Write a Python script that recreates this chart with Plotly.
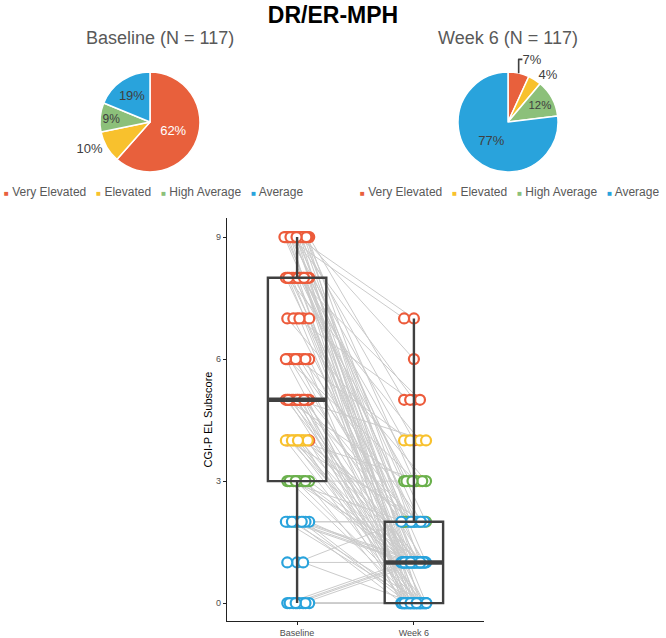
import plotly.graph_objects as go
import numpy as np

# ---------------- data ----------------
categories = ["Very Elevated", "Elevated", "High Average", "Average"]
cat_codes = ["V", "E", "H", "A"]
pie_colors = ["#E8603C", "#F8C12D", "#8CC07A", "#29A3DC"]
point_colors = ["#EC5B3B", "#F8C12D", "#6AB04C", "#29A3DC"]

time_labels = ["Baseline", "Week 6"]
time_positions = [1, 2]
y_tick_values = [0, 3, 6, 9]

baseline_score = [
    9, 9, 9, 9, 9, 9, 9, 9, 9, 9, 9, 9, 9, 9, 9, 9, 9, 9, 9, 9, 9, 9,
    8, 8, 8, 8, 8, 8, 8, 8, 8, 8, 8, 8, 8, 8, 8, 8,
    7, 7, 7, 7, 7, 7,
    6, 6, 6, 6, 6, 6, 6, 6, 6, 6,
    5, 5, 5, 5, 5, 5, 5, 5, 5, 5, 5, 5, 5, 5, 5, 5,
    4, 4, 4, 4, 4, 4, 4, 4, 4, 4, 4, 4, 4, 4,
    3, 3, 3, 3, 3, 3, 3, 3, 3,
    2, 2, 2, 2, 2, 2, 2, 2, 2, 2, 2, 2,
    1, 1, 1,
    0, 0, 0, 0, 0, 0, 0, 0, 0,
]
week6_score = [
    7, 7, 6, 5, 5, 4, 4, 3, 3, 2, 2, 2, 2, 1, 1, 1, 1, 1, 0, 0, 0, 0,
    5, 4, 3, 3, 2, 2, 2, 1, 1, 1, 1, 0, 0, 0, 0, 0,
    5, 3, 1, 1, 0, 0,
    4, 3, 2, 2, 1, 1, 1, 0, 0, 0,
    4, 3, 2, 2, 2, 1, 1, 1, 1, 1, 0, 0, 0, 0, 0, 0,
    3, 2, 2, 1, 1, 1, 1, 1, 0, 0, 0, 0, 0, 0,
    3, 2, 1, 1, 1, 1, 0, 0, 0,
    2, 2, 1, 1, 1, 1, 1, 0, 0, 0, 0, 0,
    2, 1, 0,
    1, 1, 1, 1, 0, 0, 0, 0, 0,
]
baseline_cat = list(
    "VVVVVVVVVVVVVVVVVVVVVV"
    "VVVVVVVVVVVVVVVV"
    "VVVVVV"
    "VVVVVVVVVV"
    "VVVVVVVVVVVVVVVV"
    "EVEEVEEEEEEEEE"
    "HHHHHHHHH"
    "HAAHAAAAAAAA"
    "AAA"
    "AAAAAAAAA"
)
week6_cat = list(
    "VVVVVVEHHHHAAAAAAAAAAA"
    "VEEHHAAAAAAAAAAA"
    "VHAAAA"
    "EHHAAAAAAA"
    "EHHAAAAAAAAAAAAA"
    "HAAAAAAAAAAAAA"
    "HHAAAAAAA"
    "AAAAAAAAAAAA"
    "AAA"
    "AAAAAAAAA"
)

N = len(baseline_score)
base_counts = [baseline_cat.count(c) for c in cat_codes]
week_counts = [week6_cat.count(c) for c in cat_codes]

FONT = "Liberation Sans, Arial, sans-serif"
W, H = 666, 638


def px_x(p):
    return p / W


def px_y(p):
    return 1 - p / H


fig = go.Figure()

# ---------------- pies ----------------
fig.add_trace(go.Pie(
    values=base_counts, labels=categories, sort=False, direction="clockwise", rotation=0,
    marker=dict(colors=pie_colors, line=dict(color="white", width=1.5)),
    texttemplate="%{percent:.0%}",
    textposition=["inside", "outside", "inside", "inside"],
    insidetextorientation="horizontal",
    textfont=dict(family=FONT, size=13, color=["white", "#404040", "#404040", "#404040"]),
    domain=dict(x=[px_x(100), px_x(200)], y=[px_y(172), px_y(72)]),
    showlegend=False, hoverinfo="label+percent",
))
fig.add_trace(go.Pie(
    values=week_counts, labels=categories, sort=False, direction="clockwise", rotation=0,
    marker=dict(colors=pie_colors, line=dict(color="white", width=1.5)),
    texttemplate="%{percent:.0%}",
    textposition=["outside", "outside", "inside", "inside"],
    insidetextorientation="horizontal",
    textfont=dict(family=FONT, size=13, color="#404040"),
    domain=dict(x=[px_x(458), px_x(558)], y=[px_y(172), px_y(72)]),
    showlegend=False, hoverinfo="label+percent",
))


# ---------------- jitter positions (computed) ----------------
def jitter_positions(scores, center):
    seen = {}
    xs = []
    for s in scores:
        k = seen.get(s, 0)
        seen[s] = k + 1
        xs.append(center + (((k * 0.618034 + 0.5) % 1.0) - 0.5) * 0.22)
    return xs


xb = jitter_positions(baseline_score, time_positions[0])
xw = jitter_positions(week6_score, time_positions[1])

# connecting lines
lx, ly = [], []
for i in range(N):
    lx += [xb[i], xw[i], None]
    ly += [baseline_score[i], week6_score[i], None]
fig.add_trace(go.Scatter(x=lx, y=ly, mode="lines", line=dict(color="#CBCBCB", width=1),
                         showlegend=False, hoverinfo="skip"))

# points
col_map = dict(zip(cat_codes, point_colors))
fig.add_trace(go.Scatter(
    x=xb + xw, y=baseline_score + week6_score, mode="markers",
    marker=dict(symbol="circle", size=10, color="white",
                line=dict(width=2.2, color=[col_map[c] for c in baseline_cat + week6_cat])),
    showlegend=False,
))

# boxes (on overlay axes so they draw above points)
for pos, scores in zip(time_positions, [baseline_score, week6_score]):
    arr = np.array(scores, dtype=float)
    q1, med, q3 = np.percentile(arr, [25, 50, 75])
    fig.add_trace(go.Box(
        x=[pos], q1=[q1], median=[med], q3=[q3], lowerfence=[arr.min()], upperfence=[arr.max()],
        width=0.5, whiskerwidth=0, boxpoints=False,
        fillcolor="rgba(0,0,0,0)", line=dict(color="#404040", width=2.4),
        xaxis="x2", yaxis="y2", showlegend=False,
    ))
    fig.add_trace(go.Scatter(
        x=[pos - 0.25, pos + 0.25], y=[med, med], mode="lines",
        line=dict(color="#404040", width=4.5), xaxis="x2", yaxis="y2",
        showlegend=False, hoverinfo="skip",
    ))

x_range = [0.4, 2.6]
y_range = [-0.44, 9.47]
x_dom = [px_x(227), px_x(484)]
y_dom = [px_y(621), px_y(218)]

fig.update_layout(
    width=W, height=H,
    margin=dict(l=0, r=0, t=0, b=0),
    paper_bgcolor="white", plot_bgcolor="white",
    font=dict(family=FONT, color="#404040"),
    title=dict(text="<b>DR/ER-MPH</b>", x=0.5, xanchor="center", y=px_y(15), yanchor="middle",
               font=dict(family=FONT, size=23, color="black")),
    xaxis=dict(domain=x_dom, range=x_range, tickvals=time_positions, ticktext=time_labels,
               showline=True, linecolor="#222222", linewidth=1.3, ticks="outside", ticklen=3,
               tickcolor="#222222", showgrid=False, zeroline=False,
               tickfont=dict(size=9, color="#4D4D4D")),
    yaxis=dict(domain=y_dom, range=y_range, tickvals=y_tick_values,
               showline=True, linecolor="#222222", linewidth=1.3, ticks="outside", ticklen=3,
               tickcolor="#222222", showgrid=False, zeroline=False,
               tickfont=dict(size=9, color="#4D4D4D"),
               title=dict(text="CGI-P EL Subscore", font=dict(size=11, color="black"), standoff=1)),
    xaxis2=dict(domain=x_dom, range=x_range, overlaying="x", visible=False, anchor="y2"),
    yaxis2=dict(domain=y_dom, range=y_range, overlaying="y", visible=False, anchor="x2"),
)

# pie subtitles
for txt, cx in [("Baseline (N = 117)", 160), ("Week 6 (N = 117)", 508)]:
    fig.add_annotation(text=txt, x=px_x(cx), y=px_y(38), xref="paper", yref="paper",
                       showarrow=False, xanchor="center", yanchor="middle",
                       font=dict(family=FONT, size=18, color="#595959"))

# legends built from categories and colors
legend_text = "&nbsp;&nbsp;&nbsp;".join(
    f"<span style='color:{c}; font-size:8px'>■</span> {n}" for n, c in zip(categories, pie_colors)
)
for cx in [153, 510]:
    fig.add_annotation(text=legend_text, x=px_x(cx), y=px_y(192), xref="paper", yref="paper",
                       showarrow=False, xanchor="center", yanchor="middle",
                       font=dict(family=FONT, size=12, color="#595959"))

fig.write_html(
    "out.html",
    config={"displayModeBar": False},
    post_script="document.body.style.margin='0';document.body.style.overflow='hidden';",
)
